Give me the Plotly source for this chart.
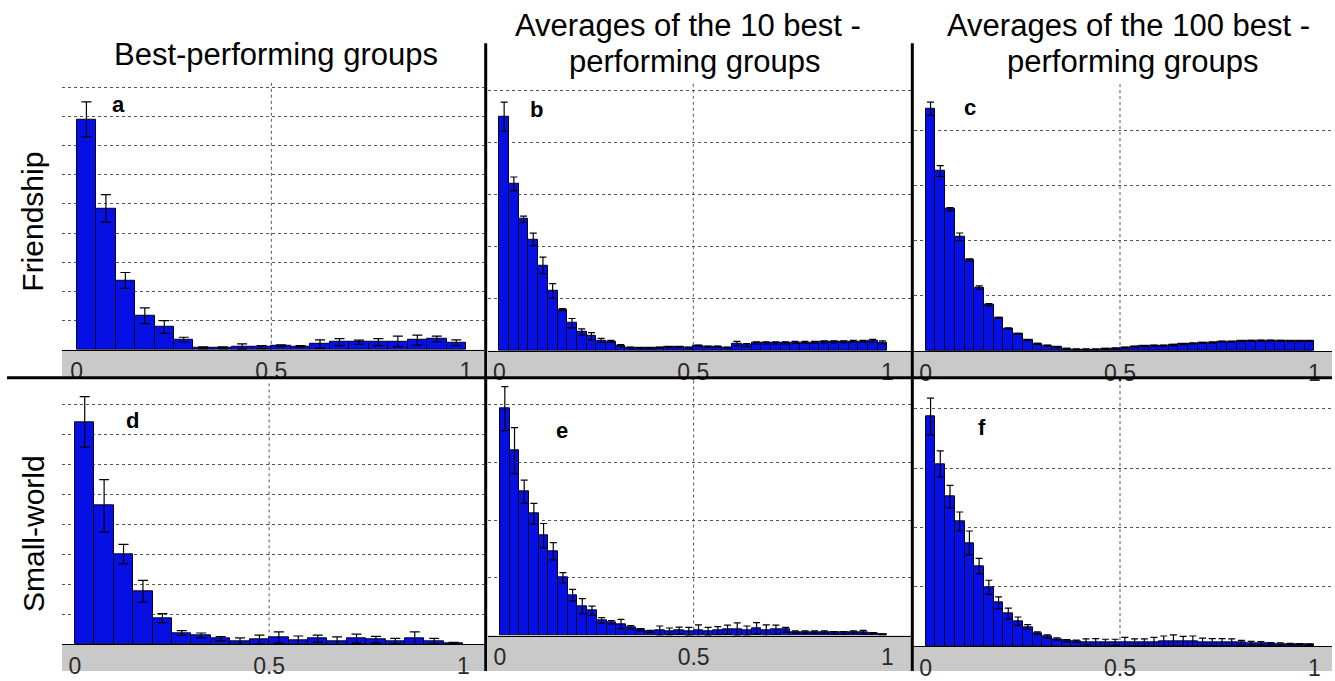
import plotly.graph_objects as go

# ---------------- data (heights in grid-line units) ----------------
bins_20 = [round(0.025 + 0.05 * i, 4) for i in range(20)]
bins_40 = [round(0.0125 + 0.025 * i, 4) for i in range(40)]

vals_a = [7.90, 4.85, 2.38, 1.17, 0.78, 0.35, 0.07, 0.07, 0.11, 0.09,
          0.14, 0.12, 0.20, 0.26, 0.26, 0.26, 0.29, 0.33, 0.37, 0.24]
err_a = [0.60, 0.47, 0.27, 0.27, 0.22, 0.08, 0.03, 0.03, 0.09, 0.05,
         0.03, 0.02, 0.14, 0.12, 0.07, 0.12, 0.18, 0.17, 0.10, 0.10]

vals_b = [4.50, 3.21, 2.53, 2.14, 1.64, 1.15, 0.79, 0.53, 0.36, 0.28,
          0.20, 0.18, 0.10, 0.06, 0.05, 0.05, 0.06, 0.07, 0.07, 0.06,
          0.10, 0.08, 0.08, 0.06, 0.14, 0.11, 0.15, 0.15, 0.15, 0.15,
          0.16, 0.16, 0.16, 0.17, 0.17, 0.17, 0.18, 0.18, 0.19, 0.16]
err_b = [0.28, 0.13, 0.06, 0.12, 0.16, 0.14, 0.02, 0.09, 0.06, 0.07,
         0.04, 0.02, 0.02, 0.01, 0.01, 0.01, 0.01, 0.01, 0.01, 0.01,
         0.01, 0.01, 0.01, 0.01, 0.04, 0.03, 0.02, 0.02, 0.02, 0.02,
         0.02, 0.02, 0.02, 0.02, 0.02, 0.02, 0.02, 0.02, 0.03, 0.03]

vals_c = [4.39, 3.26, 2.57, 2.07, 1.65, 1.15, 0.84, 0.60, 0.41, 0.31,
          0.20, 0.13, 0.10, 0.07, 0.04, 0.03, 0.03, 0.03, 0.04, 0.05,
          0.06, 0.08, 0.09, 0.10, 0.10, 0.11, 0.125, 0.14, 0.15, 0.155,
          0.17, 0.17, 0.18, 0.185, 0.19, 0.19, 0.185, 0.18, 0.18, 0.18]
err_c = [0.12, 0.10, 0.03, 0.07, 0.02, 0.03, 0.02, 0.01, 0.01, 0.01,
         0.01, 0.01, 0.01, 0.01, 0.01, 0.01, 0.01, 0.01, 0.01, 0.01,
         0.01, 0.01, 0.01, 0.01, 0.01, 0.01, 0.01, 0.01, 0.01, 0.01,
         0.01, 0.01, 0.01, 0.01, 0.01, 0.01, 0.01, 0.01, 0.01, 0.01]

vals_d = [7.41, 4.62, 3.01, 1.77, 0.875, 0.38, 0.30, 0.19, 0.11, 0.16,
          0.23, 0.13, 0.19, 0.11, 0.19, 0.16, 0.11, 0.19, 0.11, 0.05]
err_d = [0.84, 0.87, 0.32, 0.36, 0.15, 0.08, 0.08, 0.07, 0.11, 0.15,
         0.19, 0.15, 0.12, 0.14, 0.15, 0.11, 0.09, 0.23, 0.09, 0.02]

vals_e = [3.93, 3.20, 2.49, 2.11, 1.73, 1.46, 1.00, 0.70, 0.51, 0.43,
          0.26, 0.23, 0.20, 0.14, 0.10, 0.07, 0.085, 0.07, 0.085, 0.07,
          0.085, 0.07, 0.085, 0.10, 0.11, 0.085, 0.125, 0.085, 0.10, 0.10,
          0.06, 0.06, 0.06, 0.06, 0.05, 0.05, 0.06, 0.06, 0.04, 0.02]
err_e = [0.38, 0.40, 0.20, 0.18, 0.21, 0.15, 0.09, 0.10, 0.13, 0.08,
         0.05, 0.03, 0.08, 0.03, 0.02, 0.02, 0.08, 0.06, 0.06, 0.07,
         0.10, 0.07, 0.07, 0.08, 0.11, 0.08, 0.10, 0.10, 0.08, 0.04,
         0.02, 0.02, 0.02, 0.02, 0.02, 0.02, 0.02, 0.03, 0.01, 0.01]

vals_f = [3.87, 3.07, 2.52, 2.10, 1.74, 1.35, 0.99, 0.73, 0.55, 0.42,
          0.32, 0.22, 0.16, 0.12, 0.09, 0.08, 0.07, 0.055, 0.055, 0.065,
          0.065, 0.06, 0.06, 0.065, 0.08, 0.08, 0.075, 0.08, 0.065, 0.065,
          0.065, 0.06, 0.055, 0.05, 0.045, 0.04, 0.035, 0.035, 0.03, 0.025]
err_f = [0.31, 0.22, 0.19, 0.16, 0.20, 0.13, 0.12, 0.10, 0.09, 0.07,
         0.04, 0.02, 0.03, 0.02, 0.02, 0.02, 0.05, 0.07, 0.06, 0.05,
         0.08, 0.06, 0.06, 0.08, 0.09, 0.11, 0.09, 0.09, 0.07, 0.06,
         0.06, 0.06, 0.04, 0.03, 0.03, 0.02, 0.02, 0.01, 0.01, 0.01]

tick_vals = [0, 0.5, 1]
tick_text = ["0", "0.5", "1"]
panel_letters = ["a", "b", "c", "d", "e", "f"]
col_titles = [["Best-performing groups"],
              ["Averages of the 10 best -", "performing groups"],
              ["Averages of the 100 best -", "performing groups"]]
row_titles = ["Friendship", "Small-world"]

# ---------------- layout geometry (pixels) ----------------
W, H = 1335, 681
FONT = "Liberation Sans, Arial, sans-serif"
BAR_COLOR = "rgb(6,16,228)"


def px(x):
    return x / W


def py(y):
    return 1 - y / H


# left, right, x-of-0, x-of-1, top, baseline, px-per-unit, band bottom
panels = [
    dict(l=62, r=484, x0=76.7, x1=466.0, t=83, b=355.0, u=29.6, bb=382, x=bins_20, v=vals_a, e=err_a, cw=5),
    dict(l=488, r=911, x0=499.3, x1=887.3, t=83, b=356.0, u=52.8, bb=382, x=bins_40, v=vals_b, e=err_b, cw=3.5),
    dict(l=914, r=1332, x0=925.7, x1=1314.3, t=83, b=356.3, u=56.0, bb=382, x=bins_40, v=vals_c, e=err_c, cw=3.5),
    dict(l=62, r=484, x0=75.0, x1=463.3, t=386, b=654.0, u=30.47, bb=681, x=bins_20, v=vals_d, e=err_d, cw=5),
    dict(l=488, r=911, x0=500.0, x1=887.3, t=386, b=645.0, u=58.6, bb=681, x=bins_40, v=vals_e, e=err_e, cw=3.5),
    dict(l=914, r=1332, x0=925.7, x1=1314.3, t=386, b=655.7, u=60.2, bb=681, x=bins_40, v=vals_f, e=err_f, cw=3.5),
]
letter_pos = [(118, 106), (536, 111), (970, 109), (132, 427), (562, 437), (982, 434)]

fig = go.Figure()
shapes = []
annotations = []
layout_axes = {}

for i, p in enumerate(panels):
    n = i + 1
    xa = "x" if n == 1 else f"x{n}"
    ya = "y" if n == 1 else f"y{n}"
    scale = p["x1"] - p["x0"]
    xr = [(p["l"] - p["x0"]) / scale, (p["r"] - p["x0"]) / scale]
    yr = [0, (p["b"] - p["t"]) / p["u"]]

    fig.add_trace(go.Bar(
        x=p["x"], y=p["v"], xaxis=xa, yaxis=ya,
        marker=dict(color=BAR_COLOR, line=dict(color="#000022", width=1)),
        error_y=dict(type="data", array=p["e"], symmetric=True,
                     color="black", thickness=1.2, width=p["cw"]),
        showlegend=False, hoverinfo="skip",
    ))

    layout_axes["xaxis" if n == 1 else f"xaxis{n}"] = dict(
        domain=[px(p["l"]), px(p["r"])], range=xr, anchor=ya,
        showgrid=False, zeroline=False, showline=True, linecolor="black", linewidth=1,
        tickmode="array", tickvals=tick_vals, ticktext=tick_text,
        ticks="outside", ticklen=1, tickcolor="rgba(0,0,0,0)",
        tickfont=dict(family=FONT, size=23, color="#2a2a2a"),
        fixedrange=True,
    )
    layout_axes["yaxis" if n == 1 else f"yaxis{n}"] = dict(
        domain=[py(p["b"]), py(p["t"])], range=yr, anchor=xa,
        showgrid=True, gridcolor="#555555", gridwidth=1, griddash="dot",
        tick0=0, dtick=1, zeroline=False, showline=False, showticklabels=False,
        fixedrange=True,
    )

    # grey band under the x axis
    shapes.append(dict(type="rect", xref="paper", yref="paper", layer="below",
                       x0=px(p["l"]), x1=px(p["r"]), y0=py(p["bb"]), y1=py(p["b"]),
                       fillcolor="#c9c9c9", line=dict(width=0)))
    # dotted vertical line at 0.5
    shapes.append(dict(type="line", xref=xa, yref=f"{ya} domain", layer="below",
                       x0=0.5, x1=0.5, y0=0, y1=1,
                       line=dict(color="#555555", width=1, dash="dot")))
    lx, ly = letter_pos[i]
    annotations.append(dict(text=f"<b>{panel_letters[i]}</b>", xref="paper", yref="paper",
                            x=px(lx), y=py(ly), xanchor="center", yanchor="middle",
                            showarrow=False, font=dict(family=FONT, size=22, color="black")))

# separators
shapes.append(dict(type="line", xref="paper", yref="paper", x0=px(7), x1=px(1332),
                   y0=py(383.3), y1=py(383.3), line=dict(color="black", width=3)))
for xs in (485.7, 912.3):
    shapes.append(dict(type="line", xref="paper", yref="paper", x0=px(xs), x1=px(xs),
                       y0=py(44), y1=py(681), line=dict(color="black", width=3)))

# column titles (one annotation per line)
title_lines = [
    (col_titles[0][0], 276, 55),
    (col_titles[1][0], 688, 26), (col_titles[1][1], 695, 62),
    (col_titles[2][0], 1128, 26), (col_titles[2][1], 1133, 62),
]
for txt, tx, ty in title_lines:
    annotations.append(dict(text=txt, xref="paper", yref="paper", x=px(tx), y=py(ty),
                            xanchor="center", yanchor="middle", showarrow=False,
                            font=dict(family=FONT, size=31, color="black")))

# row titles
for txt, ry in zip(row_titles, (225, 542)):
    annotations.append(dict(text=txt, xref="paper", yref="paper", x=px(33), y=py(ry),
                            xanchor="center", yanchor="middle", textangle=-90, showarrow=False,
                            font=dict(family=FONT, size=30, color="black")))

fig.update_layout(
    width=W, height=H, margin=dict(l=0, r=0, t=0, b=0, pad=0),
    paper_bgcolor="white", plot_bgcolor="rgba(0,0,0,0)",
    bargap=0, shapes=shapes, annotations=annotations,
    **layout_axes,
)

fig.write_html("out.html", config={"displayModeBar": False},
               post_script="document.body.style.margin='0';document.body.style.overflow='hidden';")
